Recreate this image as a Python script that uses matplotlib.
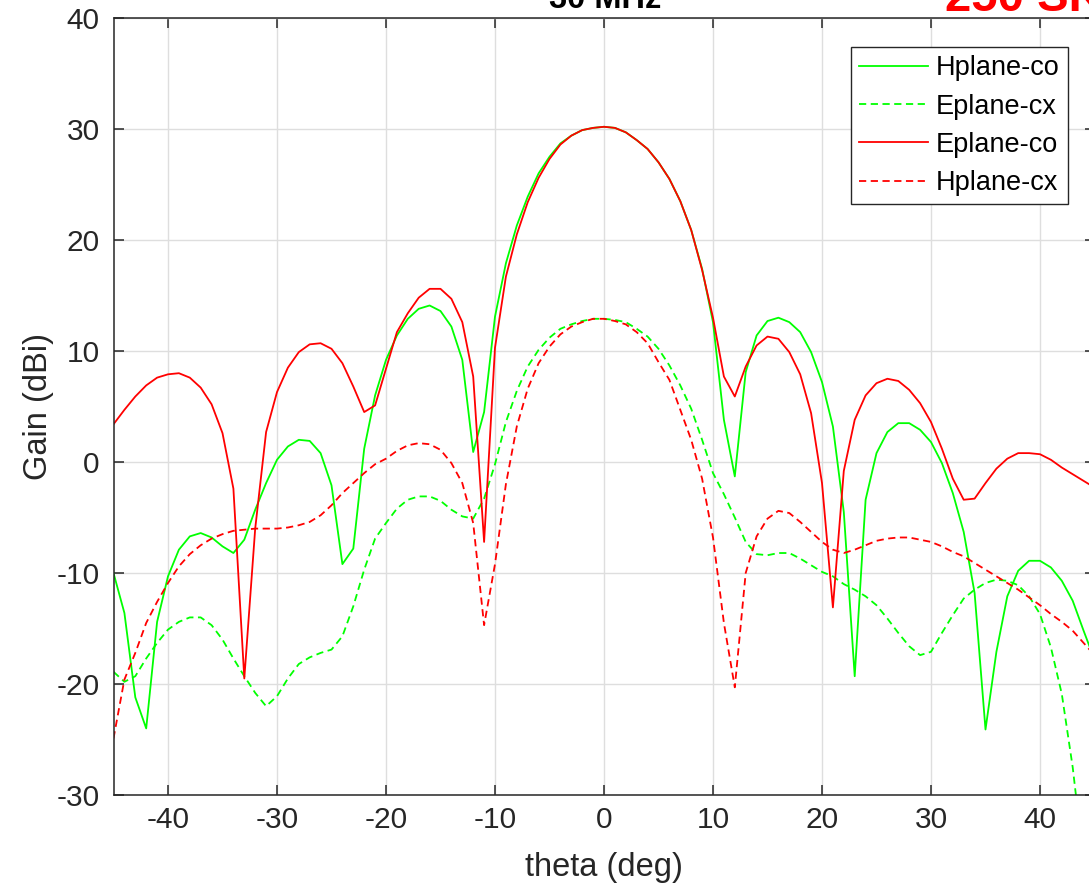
import matplotlib
matplotlib.use("Agg")
import matplotlib.pyplot as plt
import numpy as np

plt.rcParams["font.family"] = ["Liberation Sans", "DejaVu Sans"]
plt.rcParams["axes.unicode_minus"] = False

# ── data (gain in dBi, sampled every 1 deg) ────────────────────────────────────
theta = np.arange(-45, 46)

hplane_co = [
    -10.0, -13.6, -21.2, -24.0, -14.4, -10.3, -7.9, -6.7, -6.4, -6.8,
    -7.6, -8.2, -7.0, -4.3, -1.9, 0.2, 1.4, 2.0, 1.9, 0.8,
    -2.1, -9.2, -7.8, 1.2, 6.0, 9.2, 11.4, 12.9, 13.8, 14.1,
    13.6, 12.2, 9.2, 0.9, 4.5, 13.1, 17.9, 21.3, 23.9, 26.0,
    27.5, 28.7, 29.4, 29.9, 30.1, 30.2, 30.1, 29.7, 29.0, 28.2,
    27.0, 25.5, 23.5, 20.9, 17.4, 12.6, 3.8, -1.3, 8.1, 11.4,
    12.7, 13.0, 12.6, 11.7, 9.9, 7.2, 3.2, -4.5, -19.3, -3.4,
    0.8, 2.7, 3.5, 3.5, 2.9, 1.8, -0.1, -2.8, -6.3, -11.8,
    -24.1, -17.1, -12.1, -9.8, -8.9, -8.9, -9.5, -10.7, -12.5, -15.2,
    -17.8,
]

eplane_cx = [
    -18.9, -19.8, -19.3, -17.7, -16.3, -15.1, -14.4, -14.0, -14.0, -14.7,
    -16.0, -17.7, -19.3, -20.8, -22.0, -21.1, -19.5, -18.2, -17.6, -17.2,
    -16.9, -15.7, -13.0, -9.7, -6.9, -5.5, -4.2, -3.4, -3.1, -3.1,
    -3.5, -4.3, -4.9, -5.1, -3.3, -0.2, 3.6, 6.4, 8.6, 10.1,
    11.2, 12.0, 12.4, 12.7, 12.9, 12.9, 12.8, 12.6, 12.0, 11.3,
    10.2, 8.7, 6.9, 4.8, 2.0, -1.0, -2.9, -5.0, -7.2, -8.3,
    -8.4, -8.2, -8.2, -8.7, -9.3, -9.9, -10.3, -11.0, -11.5, -12.1,
    -12.9, -14.1, -15.4, -16.6, -17.4, -17.1, -15.4, -13.8, -12.3, -11.5,
    -10.9, -10.6, -10.7, -11.1, -12.1, -13.7, -16.7, -20.9, -27.5, -36.0,
    -45.0,
]

eplane_co = [
    3.4, 4.7, 5.9, 6.9, 7.6, 7.9, 8.0, 7.6, 6.7, 5.2,
    2.6, -2.4, -19.5, -6.0, 2.7, 6.3, 8.5, 9.9, 10.6, 10.7,
    10.2, 8.9, 6.8, 4.5, 5.1, 8.4, 11.7, 13.4, 14.8, 15.6,
    15.6, 14.7, 12.6, 7.7, -7.2, 10.3, 16.7, 20.5, 23.4, 25.6,
    27.3, 28.6, 29.4, 29.9, 30.1, 30.2, 30.1, 29.7, 29.0, 28.2,
    27.0, 25.5, 23.5, 20.9, 17.3, 13.0, 7.7, 5.9, 8.6, 10.5,
    11.3, 11.1, 9.9, 7.9, 4.4, -1.9, -13.1, -0.8, 3.8, 6.0,
    7.1, 7.5, 7.3, 6.5, 5.3, 3.6, 1.2, -1.5, -3.4, -3.3,
    -1.9, -0.6, 0.3, 0.8, 0.8, 0.7, 0.2, -0.5, -1.1, -1.7,
    -2.3,
]

hplane_cx = [
    -24.9, -19.6, -17.2, -14.5, -12.6, -10.9, -9.4, -8.3, -7.5, -6.9,
    -6.5, -6.2, -6.1, -6.0, -6.0, -6.0, -5.9, -5.7, -5.4, -4.8,
    -3.9, -2.8, -1.9, -1.0, -0.2, 0.3, 1.0, 1.5, 1.7, 1.6,
    1.1, -0.1, -1.9, -5.5, -14.7, -9.2, -2.0, 3.2, 6.6, 8.9,
    10.4, 11.5, 12.2, 12.6, 12.9, 12.9, 12.7, 12.4, 11.7, 10.7,
    9.0, 7.4, 4.7, 2.0, -1.5, -6.8, -14.5, -20.3, -10.0, -6.7,
    -5.1, -4.4, -4.6, -5.4, -6.3, -7.2, -7.9, -8.2, -7.9, -7.5,
    -7.1, -6.9, -6.8, -6.8, -7.0, -7.2, -7.6, -8.1, -8.5, -9.1,
    -9.7, -10.3, -10.9, -11.5, -12.2, -12.9, -13.7, -14.4, -15.2, -16.3,
    -17.4,
]

xticks = np.arange(-40, 41, 10)
yticks = np.arange(-30, 41, 10)

# ── plot ───────────────────────────────────────────────────────────────────────
AX_C = "#262626"
DASH = (0, (4, 2.5))

fig = plt.figure(figsize=(10.89, 8.90), dpi=100)
# axes box runs slightly past the right edge (cropped screenshot)
ax = fig.add_axes([113.5 / 1089, 95 / 890, 981 / 1089, 777 / 890])

ax.plot(theta, hplane_co, color="#00ff00", lw=1.3, label="Hplane-co")
ax.plot(theta, eplane_cx, color="#00ff00", lw=1.3, ls=DASH, label="Eplane-cx")
ax.plot(theta, eplane_co, color="#ff0000", lw=1.3, label="Eplane-co")
ax.plot(theta, hplane_cx, color="#ff0000", lw=1.3, ls=DASH, label="Hplane-cx")

ax.set_xlim(-45, 45)
ax.set_ylim(-30, 40)
ax.set_xticks(xticks)
ax.set_yticks(yticks)
ax.grid(True, color="#dedede", lw=1.0)
ax.set_axisbelow(True)

for s in ax.spines.values():
    s.set_color(AX_C)
    s.set_linewidth(1.1)
ax.tick_params(direction="in", length=7, width=1.1, color=AX_C,
               labelcolor=AX_C, labelsize=21.5, top=True, right=True)
ax.tick_params(axis="x", pad=8)
ax.tick_params(axis="y", pad=10)

ax.set_xlabel("theta (deg)", fontsize=23.5, color=AX_C, labelpad=13)
ax.set_ylabel("Gain (dBi)", fontsize=23.5, color=AX_C, labelpad=2)

leg = ax.legend(loc="upper right", bbox_to_anchor=(1067.7 / 1089, 1 - 47.3 / 890),
                bbox_transform=fig.transFigure, borderaxespad=0,
                fontsize=19.5, fancybox=False, framealpha=1, edgecolor=AX_C,
                handlelength=2.55, handletextpad=0.3, labelspacing=0.45,
                borderpad=0.3)
leg.get_frame().set_linewidth(1.0)

# title and annotation, mostly cut off by the top of the screenshot
fig.text(605 / 1089, 1 - 8 / 890, "30 MHz", ha="center", va="baseline",
         fontsize=23.5, fontweight="bold", color="black")
fig.text(945 / 1089, 1 - 11 / 890, "250 SKA", ha="left", va="baseline",
         fontsize=34, fontweight="bold", color="#ff0000")

fig.savefig("out.png", dpi=100)
